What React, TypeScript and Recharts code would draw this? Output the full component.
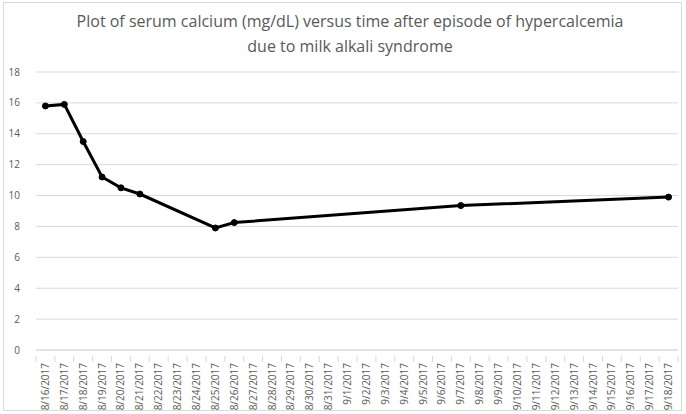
import React from 'react';
import { LineChart, Line, XAxis, YAxis, CartesianGrid } from 'recharts';

const dates = [
  '8/16/2017','8/17/2017','8/18/2017','8/19/2017','8/20/2017','8/21/2017','8/22/2017','8/23/2017','8/24/2017','8/25/2017',
  '8/26/2017','8/27/2017','8/28/2017','8/29/2017','8/30/2017','8/31/2017','9/1/2017','9/2/2017','9/3/2017','9/4/2017',
  '9/5/2017','9/6/2017','9/7/2017','9/8/2017','9/9/2017','9/10/2017','9/11/2017','9/12/2017','9/13/2017','9/14/2017',
  '9/15/2017','9/16/2017','9/17/2017','9/18/2017',
];
const calcium: (number | null)[] = [
  15.8, 15.9, 13.5, 11.2, 10.5, 10.1, null, null, null, 7.9,
  8.25, null, null, null, null, null, null, null, null, null,
  null, null, 9.35, null, null, null, null, null, null, null,
  null, null, null, 9.9,
];
const yTicks = [0, 2, 4, 6, 8, 10, 12, 14, 16, 18];
const titleLines = [
  'Plot of serum calcium (mg/dL) versus time after episode of hypercalcemia',
  'due to milk alkali syndrome',
];

const data = dates.map((d, i) => ({ date: d, ca: calcium[i] }));

const FONT = '"Open Sans", sans-serif';
const GRAY = '#595959';
const GRID = '#d9d9d9';
const HALF = 642 / dates.length / 2;

const XTick = (props: any) => {
  const { x, y, payload, index } = props;
  return (
    <g>
      <line x1={x - HALF} x2={x - HALF} y1={y - 2} y2={y + 4} stroke={GRID} />
      {index === dates.length - 1 && (
        <line x1={x + HALF} x2={x + HALF} y1={y - 2} y2={y + 4} stroke={GRID} />
      )}
      <text
        transform={`translate(${x},${y}) rotate(-90)`}
        x={-5}
        y={0}
        dy="0.35em"
        textAnchor="end"
        fontSize={10}
        fontFamily={FONT}
        fill={GRAY}
      >
        {payload.value}
      </text>
    </g>
  );
};

export default function App() {
  return (
    <div style={{ position: 'absolute', left: 0, top: 0, width: 686, height: 414, background: '#fff' }}>
      <div
        style={{
          position: 'absolute', left: 3, top: 2, width: 679, height: 409,
          border: `1px solid ${GRID}`, boxSizing: 'border-box',
        }}
      />
      <div
        style={{
          position: 'absolute', left: 0, top: 9, width: 700, textAlign: 'center',
          fontFamily: FONT, fontSize: 16, color: GRAY, lineHeight: '25px',
        }}
      >
        {titleLines.map((t) => (
          <div key={t}>{t}</div>
        ))}
      </div>
      <div style={{ position: 'absolute', left: 0, top: 0 }}>
        <LineChart width={686} height={414} data={data} margin={{ top: 72, right: 8, bottom: 0, left: 0 }}>
          <CartesianGrid vertical={false} stroke={GRID} strokeWidth={1} />
          <XAxis
            dataKey="date"
            interval={0}
            height={64}
            padding={{ left: HALF, right: HALF }}
            axisLine={{ stroke: GRID }}
            tickLine={false}
            tick={<XTick />}
          />
          <YAxis
            width={36}
            domain={[0, 18]}
            ticks={yTicks}
            axisLine={false}
            tickLine={false}
            tick={{ fontSize: 10, fontFamily: FONT, fill: GRAY }}
            tickMargin={10}
          />
          <Line
            dataKey="ca"
            type="linear"
            stroke="#000"
            strokeWidth={3}
            connectNulls
            dot={{ r: 3, fill: '#000', stroke: '#000', strokeWidth: 1 }}
            isAnimationActive={false}
          />
        </LineChart>
      </div>
    </div>
  );
}
